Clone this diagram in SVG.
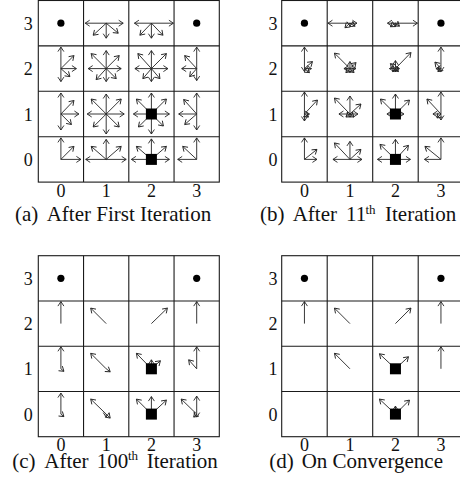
<svg xmlns="http://www.w3.org/2000/svg" width="460" height="491" viewBox="0 0 460 491">
<style>
.g{fill:none;stroke:#1a1a1a;stroke-width:1.1}
.a{fill:none;stroke:#222;stroke-width:0.9;marker-end:url(#h)}
.t{font-family:"Liberation Serif","DejaVu Serif",serif;font-size:18px;fill:#111;text-anchor:middle}
.c{font-family:"Liberation Serif","DejaVu Serif",serif;font-size:21px;fill:#111}
.s{font-size:13px}
.sq{fill:#000}
.dot{fill:#000}
</style>
<defs>
<marker id="h" viewBox="-6 -4 7 8" refX="0" refY="0" markerWidth="7" markerHeight="8" markerUnits="userSpaceOnUse" orient="auto">
<path d="M-4.5,-3 L0,0 L-4.5,3" fill="none" stroke="#222" stroke-width="0.9"/>
</marker>
</defs>

<!-- Panel (a) -->
<g id="panel-a">
<g id="grid-a">
<rect class="g" x="38.3" y="0.5" width="181" height="181.6"/>
<path class="g" d="M83.55 0.5V182.1M128.8 0.5V182.1M174.05 0.5V182.1M38.3 45.9H219.3M38.3 91.3H219.3M38.3 136.7H219.3"/>
</g>
<g id="labels-a">
<text class="t" x="28.3" y="29.7">3</text><text class="t" x="28.3" y="75.1">2</text><text class="t" x="28.3" y="120.5">1</text><text class="t" x="28.3" y="165.9">0</text>
<text class="t" x="60.9" y="197">0</text><text class="t" x="106.2" y="197">1</text><text class="t" x="151.4" y="197">2</text><text class="t" x="196.7" y="197">3</text>
<text class="c" y="221"><tspan x="15">(a)</tspan><tspan x="46.7">After First Iteration</tspan></text>
</g>
<g id="arrows-a">
<circle class="dot" cx="60.9" cy="23.2" r="3.6"/>
<circle class="dot" cx="196.7" cy="23.2" r="3.6"/>
<g transform="translate(106.2 23.2)"><path class="a" d="M0 0h-21"/><path class="a" d="M0 0h17"/><path class="a" d="M0 0l-13 12"/><path class="a" d="M0 0v15"/><path class="a" d="M0 0l12 10"/></g>
<g transform="translate(151.4 23.2)"><path class="a" d="M0 0h-17"/><path class="a" d="M0 0h22"/><path class="a" d="M0 0l-11.5 12"/><path class="a" d="M0 0v15"/><path class="a" d="M0 0l11.5 12"/></g>
<g transform="translate(60.9 68.6)"><path class="a" d="M0 0v-21.5"/><path class="a" d="M0 0v13"/><path class="a" d="M0 0h15.5"/><path class="a" d="M0 0l13 -13"/><path class="a" d="M0 0l9 8"/></g>
<g transform="translate(106.2 68.6)"><path class="a" d="M0 0v-18"/><path class="a" d="M0 0v13"/><path class="a" d="M0 0h-18"/><path class="a" d="M0 0h15"/><path class="a" d="M0 0l-15 -15"/><path class="a" d="M0 0l13 -13"/><path class="a" d="M0 0l-10 11"/><path class="a" d="M0 0l10 10"/></g>
<g transform="translate(151.4 68.6)"><path class="a" d="M0 0v-18"/><path class="a" d="M0 0v13"/><path class="a" d="M0 0h-16.5"/><path class="a" d="M0 0h16.5"/><path class="a" d="M0 0l-13.5 -15"/><path class="a" d="M0 0l15 -15"/><path class="a" d="M0 0l-8.5 10"/><path class="a" d="M0 0l8.5 10"/></g>
<g transform="translate(196.7 68.6)"><path class="a" d="M0 0v-21.5"/><path class="a" d="M0 0v12"/><path class="a" d="M0 0h-15"/><path class="a" d="M0 0l-12 -13"/><path class="a" d="M0 0l-7 8"/></g>
<g transform="translate(60.9 114)"><path class="a" d="M0 0v-21"/><path class="a" d="M0 0v16"/><path class="a" d="M0 0h18"/><path class="a" d="M0 0l13 -13.5"/><path class="a" d="M0 0l10.5 10.5"/></g>
<g transform="translate(106.2 114)"><path class="a" d="M0 0v-20"/><path class="a" d="M0 0v20"/><path class="a" d="M0 0h-19"/><path class="a" d="M0 0h18"/><path class="a" d="M0 0l-15 -15"/><path class="a" d="M0 0l15 -15"/><path class="a" d="M0 0l-13 13"/><path class="a" d="M0 0l13 13"/></g>
<g transform="translate(151.4 114)"><path class="a" d="M0 0v-21"/><path class="a" d="M0 0v20"/><path class="a" d="M0 0h-18"/><path class="a" d="M0 0h18"/><path class="a" d="M0 0l-15 -15"/><path class="a" d="M0 0l15 -15"/><path class="a" d="M0 0l-13 13"/><path class="a" d="M0 0l12 12"/><rect class="sq" x="-5.5" y="-5.5" width="11" height="11"/></g>
<g transform="translate(196.7 114)"><path class="a" d="M0 0v-21"/><path class="a" d="M0 0v16"/><path class="a" d="M0 0h-18"/><path class="a" d="M0 0l-13 -14.5"/><path class="a" d="M0 0l-12 10.5"/></g>
<g transform="translate(60.9 159.4)"><path class="a" d="M0 0v-21.5"/><path class="a" d="M0 0h20"/><path class="a" d="M0 0l13 -13"/></g>
<g transform="translate(106.2 159.4)"><path class="a" d="M0 0h-20.5"/><path class="a" d="M0 0h20"/><path class="a" d="M0 0v-20"/><path class="a" d="M0 0l-15 -13"/><path class="a" d="M0 0l15 -13"/></g>
<g transform="translate(151.4 159.4)"><path class="a" d="M0 0h-20"/><path class="a" d="M0 0h18"/><path class="a" d="M0 0v-20.5"/><path class="a" d="M0 0l-15 -13"/><path class="a" d="M0 0l15 -13"/><rect class="sq" x="-5.5" y="-5.5" width="11" height="11"/></g>
<g transform="translate(196.7 159.4)"><path class="a" d="M0 0h-19"/><path class="a" d="M0 0v-21.5"/><path class="a" d="M0 0l-14 -13"/></g>
</g>
</g>

<!-- Panel (b) -->
<g id="panel-b">
<g id="grid-b">
<rect class="g" x="281.7" y="0.5" width="182" height="181.6"/>
<path class="g" d="M327.2 0.5V182.1M372.7 0.5V182.1M418.2 0.5V182.1M281.7 45.9H463.7M281.7 91.3H463.7M281.7 136.7H463.7"/>
</g>
<g id="labels-b">
<text class="t" x="273" y="29.7">3</text><text class="t" x="273" y="75.1">2</text><text class="t" x="273" y="120.5">1</text><text class="t" x="273" y="165.9">0</text>
<text class="t" x="304.45" y="197">0</text><text class="t" x="349.95" y="197">1</text><text class="t" x="395.45" y="197">2</text><text class="t" x="440.95" y="197">3</text>
<text class="c" y="221"><tspan x="260">(b)</tspan><tspan x="292.7">After</tspan><tspan x="346">11</tspan><tspan class="s" x="365.5" dy="-7.5">th</tspan><tspan x="385" dy="7.5">Iteration</tspan></text>
</g>
<g id="arrows-b">
<circle class="dot" cx="304.45" cy="23.2" r="3.6"/>
<circle class="dot" cx="440.95" cy="23.2" r="3.6"/>
<g transform="translate(349.95 23.2)"><path class="a" d="M0 0h-22"/><path class="a" d="M0 0h7"/><path class="a" d="M0 0l-5 4.5"/><path class="a" d="M0 0v3"/><path class="a" d="M0 0l5 3"/></g>
<g transform="translate(395.45 23.2)"><path class="a" d="M0 0h-8"/><path class="a" d="M0 0h22"/><path class="a" d="M0 0l-5 3.5"/><path class="a" d="M0 0v3"/><path class="a" d="M0 0l4 3"/></g>
<g transform="translate(304.45 68.6)"><path class="a" d="M0 0v-21.5"/><path class="a" d="M0 0v3"/><path class="a" d="M0 0l8 -7"/><path class="a" d="M0 0h7"/><path class="a" d="M0 0l5 4"/></g>
<g transform="translate(349.95 68.6)"><path class="a" d="M0 0l-15.5 -15.5"/><path class="a" d="M0 0v-7"/><path class="a" d="M0 0l6 -6"/><path class="a" d="M0 0h6"/><path class="a" d="M0 0h-6"/><path class="a" d="M0 0l-4 4"/><path class="a" d="M0 0v4"/><path class="a" d="M0 0l4 4"/></g>
<g transform="translate(395.45 68.6)"><path class="a" d="M0 0l15.5 -16"/><path class="a" d="M0 0v-8"/><path class="a" d="M0 0l-5 -5"/><path class="a" d="M0 0h-6"/><path class="a" d="M0 0h4"/><path class="a" d="M0 0l-3 3"/><path class="a" d="M0 0v3"/><path class="a" d="M0 0l3 3"/></g>
<g transform="translate(440.95 68.6)"><path class="a" d="M0 0v-21.5"/><path class="a" d="M0 0v3"/><path class="a" d="M0 0l-6 -6.5"/><path class="a" d="M0 0h-5"/><path class="a" d="M0 0l-3 3"/></g>
<g transform="translate(304.45 114)"><path class="a" d="M0 0v-22"/><path class="a" d="M0 0v7"/><path class="a" d="M0 0l13 -14"/><path class="a" d="M0 0h5"/><path class="a" d="M0 0l4 3"/></g>
<g transform="translate(349.95 114)"><path class="a" d="M0 0l-15.5 -16"/><path class="a" d="M0 0v-18"/><path class="a" d="M0 0l11 -10"/><path class="a" d="M0 0h-11"/><path class="a" d="M0 0h8"/><path class="a" d="M0 0l-4 3"/><path class="a" d="M0 0v3"/><path class="a" d="M0 0l4 3"/></g>
<g transform="translate(395.45 114)"><path class="a" d="M0 0v-20"/><path class="a" d="M0 0l-15 -15"/><path class="a" d="M0 0l14 -14"/><path class="a" d="M0 0h-8.5"/><path class="a" d="M0 0h8.5"/><path class="a" d="M0 0l-4 4"/><path class="a" d="M0 0v4"/><path class="a" d="M0 0l4 4"/><rect class="sq" x="-5.5" y="-5.5" width="11" height="11"/></g>
<g transform="translate(440.95 114)"><path class="a" d="M0 0v-22"/><path class="a" d="M0 0v6"/><path class="a" d="M0 0l-14 -15"/><path class="a" d="M0 0h-8"/><path class="a" d="M0 0l-4 4"/></g>
<g transform="translate(304.45 159.4)"><path class="a" d="M0 0v-21.5"/><path class="a" d="M0 0l12.5 -10"/><path class="a" d="M0 0h12.5"/></g>
<g transform="translate(349.95 159.4)"><path class="a" d="M0 0l-15.5 -16.5"/><path class="a" d="M0 0v-18"/><path class="a" d="M0 0l11 -10"/><path class="a" d="M0 0h-17"/><path class="a" d="M0 0h12"/></g>
<g transform="translate(395.45 159.4)"><path class="a" d="M0 0v-20"/><path class="a" d="M0 0l-15.5 -15"/><path class="a" d="M0 0l13 -14"/><path class="a" d="M0 0h-18"/><path class="a" d="M0 0h15"/><rect class="sq" x="-5.5" y="-5.5" width="11" height="11"/></g>
<g transform="translate(440.95 159.4)"><path class="a" d="M0 0v-21.5"/><path class="a" d="M0 0l-16 -13"/><path class="a" d="M0 0h-16.5"/></g>
</g>
</g>

<!-- Panel (c) -->
<g id="panel-c">
<g id="grid-c">
<rect class="g" x="38.3" y="255.7" width="181" height="181"/>
<path class="g" d="M83.55 255.7V436.7M128.8 255.7V436.7M174.05 255.7V436.7M38.3 300.95H219.3M38.3 346.2H219.3M38.3 391.45H219.3"/>
</g>
<g id="labels-c">
<text class="t" x="28.3" y="284.8">3</text><text class="t" x="28.3" y="330.1">2</text><text class="t" x="28.3" y="375.3">1</text><text class="t" x="28.3" y="420.6">0</text>
<text class="t" x="60.9" y="450.5">0</text><text class="t" x="106.2" y="450.5">1</text><text class="t" x="151.4" y="450.5">2</text><text class="t" x="196.7" y="450.5">3</text>
<text class="c" y="467.5"><tspan x="12.3">(c)</tspan><tspan x="44.3">After</tspan><tspan x="96.7">100</tspan><tspan class="s" x="128" dy="-7.5">th</tspan><tspan x="146.7" dy="7.5">Iteration</tspan></text>
</g>
<g id="arrows-c">
<circle class="dot" cx="60.9" cy="278.3" r="3.6"/>
<circle class="dot" cx="196.7" cy="278.3" r="3.6"/>
<g transform="translate(60.9 323.6)"><path class="a" d="M0 0v-22"/></g>
<g transform="translate(106.2 323.6)"><path class="a" d="M0 0l-15.5 -15.5"/></g>
<g transform="translate(151.4 323.6)"><path class="a" d="M0 0l16 -15.5"/></g>
<g transform="translate(196.7 323.6)"><path class="a" d="M0 0v-22"/></g>
<g transform="translate(60.9 368.8)"><path class="a" d="M0 0v-22"/><path class="a" d="M0 0l3 2.5"/></g>
<g transform="translate(106.2 368.8)"><path class="a" d="M0 0l-15.5 -15.5"/><path class="a" d="M0 0l4 3"/></g>
<g transform="translate(151.4 368.8)"><path class="a" d="M0 0l-15 -15.5"/><path class="a" d="M0 0v-9"/><path class="a" d="M0 0l9 -8"/><rect class="sq" x="-5.5" y="-5.5" width="11" height="11"/></g>
<g transform="translate(196.7 368.8)"><path class="a" d="M0 0v-22"/><path class="a" d="M0 0l-8 -9"/></g>
<g transform="translate(60.9 414.1)"><path class="a" d="M0 0v-21"/><path class="a" d="M0 0l3 2.5"/></g>
<g transform="translate(106.2 414.1)"><path class="a" d="M0 0l-15.5 -15"/><path class="a" d="M0 0l4 4"/><path class="a" d="M0 0v3"/></g>
<g transform="translate(151.4 414.1)"><path class="a" d="M0 0l-15 -15"/><path class="a" d="M0 0v-17.5"/><path class="a" d="M0 0l15 -14"/><rect class="sq" x="-5.5" y="-5.5" width="11" height="11"/></g>
<g transform="translate(196.7 414.1)"><path class="a" d="M0 0v-18"/><path class="a" d="M0 0l-15.5 -15"/><path class="a" d="M0 0l-3 3"/><path class="a" d="M0 0v3"/></g>
</g>
</g>

<!-- Panel (d) -->
<g id="panel-d">
<g id="grid-d">
<rect class="g" x="281.7" y="255.7" width="182" height="181"/>
<path class="g" d="M327.2 255.7V436.7M372.7 255.7V436.7M418.2 255.7V436.7M281.7 300.95H463.7M281.7 346.2H463.7M281.7 391.45H463.7"/>
</g>
<g id="labels-d">
<text class="t" x="273" y="284.8">3</text><text class="t" x="273" y="330.1">2</text><text class="t" x="273" y="375.3">1</text><text class="t" x="273" y="420.6">0</text>
<text class="t" x="304.45" y="450.5">0</text><text class="t" x="349.95" y="450.5">1</text><text class="t" x="395.45" y="450.5">2</text><text class="t" x="440.95" y="450.5">3</text>
<text class="c" y="467.5"><tspan x="269.3">(d)</tspan><tspan x="301.7">On Convergence</tspan></text>
</g>
<g id="arrows-d">
<circle class="dot" cx="304.45" cy="278.3" r="3.6"/>
<circle class="dot" cx="440.95" cy="278.3" r="3.6"/>
<g transform="translate(304.45 323.6)"><path class="a" d="M0 0v-22"/></g>
<g transform="translate(349.95 323.6)"><path class="a" d="M0 0l-15.5 -15.5"/></g>
<g transform="translate(395.45 323.6)"><path class="a" d="M0 0l15.5 -15.5"/></g>
<g transform="translate(440.95 323.6)"><path class="a" d="M0 0v-22"/></g>
<g transform="translate(349.95 368.8)"><path class="a" d="M0 0l-15.5 -15.5"/></g>
<g transform="translate(395.45 368.8)"><path class="a" d="M0 0l-16 -15"/><path class="a" d="M0 0l13 -12"/><rect class="sq" x="-5.5" y="-5.5" width="11" height="11"/></g>
<g transform="translate(440.95 368.8)"><path class="a" d="M0 0v-22"/></g>
<g transform="translate(395.45 414.1)"><path class="a" d="M0 0l-16 -15"/><path class="a" d="M0 0l14 -14"/><path class="a" d="M0 0v-8"/><rect class="sq" x="-5.5" y="-5.5" width="11" height="11"/></g>
</g>
</g>
</svg>
